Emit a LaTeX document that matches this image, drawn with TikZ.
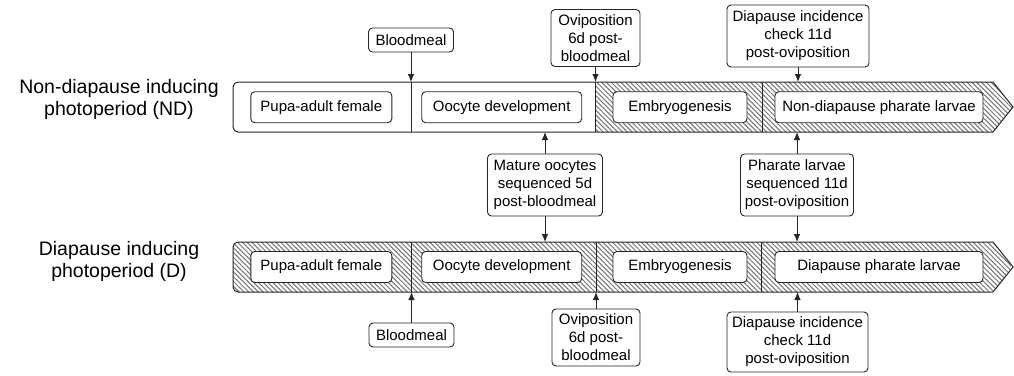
\documentclass[tikz,border=0pt]{standalone}
\usepackage{fontspec}
\setmainfont{Liberation Sans}
\usetikzlibrary{patterns.meta,arrows.meta}
\begin{document}
\begin{tikzpicture}[x=1pt,y=-1pt,
  box/.style={draw=black!85, rounded corners=4pt, fill=white, line width=0.9pt,
    font=\fontsize{15}{18}\selectfont, align=center, inner sep=0pt, anchor=center},
  arr/.style={-{Latex[length=8pt,width=6.5pt]}, line width=0.9pt, black!85},
  hatch/.style={pattern={Lines[angle=-45,distance=3.4pt,line width=1pt]}, pattern color=black!55},
  barline/.style={line width=1pt, black!85},
  title/.style={font=\fontsize{19.5}{22.5}\selectfont, align=center}]
\useasboundingbox (0,0) rectangle (1014,375);

% ---------- top bar (ND) ----------
\fill[white, rounded corners=5pt] (233,82) rectangle (600,132);
\path[hatch] (595,82) -- (993,82) -- (1013,107) -- (993,132) -- (595,132) -- cycle;
\draw[barline] (700,82) -- (993,82) -- (1013,107) -- (993,132) -- (700,132)
  [rounded corners=5pt] -- (233,132) -- (233,82) -- (700,82);
\draw[barline] (411,82) -- (411,132);
\draw[barline] (595,82) -- (595,132);
\draw[barline] (762,82) -- (762,132);
\coordinate (ndtop) at (0,82);
\coordinate (ndbot) at (0,132);

% ---------- bottom bar (D) ----------
\path[hatch, rounded corners=5pt] (700,242) -- (993,242) -- (1013,267) -- (993,292) -- (700,292)
  -- (233,292) -- (233,242) -- cycle;
\draw[barline] (700,242) -- (993,242) -- (1013,267) -- (993,292) -- (700,292)
  [rounded corners=5pt] -- (233,292) -- (233,242) -- (700,242);
\draw[barline] (411.5,242) -- (411.5,292);
\draw[barline] (596,242) -- (596,292);
\draw[barline] (761,242) -- (761,292);
\coordinate (dtop) at (0,242);
\coordinate (dbot) at (0,292);

% ---------- titles ----------
\node[title] (tnd) at (119,99.5) {Non-diapause inducing\\photoperiod (ND)};
\node[title] (td) at (119,261.5) {Diapause inducing\\photoperiod (D)};

% ---------- stage boxes ----------
\node[box, minimum width=141pt, minimum height=31pt] (p1) at (321.3,107.2) {Pupa-adult female};
\node[box, minimum width=160pt, minimum height=31pt] (o1) at (501.7,107.2) {Oocyte development};
\node[box, minimum width=134pt, minimum height=31pt] (e1) at (680,107.2) {Embryogenesis};
\node[box, minimum width=208pt, minimum height=31pt] (l1) at (879,107.2) {Non-diapause pharate larvae};

\node[box, minimum width=141pt, minimum height=31pt] (p2) at (321.3,267) {Pupa-adult female};
\node[box, minimum width=160pt, minimum height=31pt] (o2) at (501.7,267) {Oocyte development};
\node[box, minimum width=134pt, minimum height=31pt] (e2) at (680,267) {Embryogenesis};
\node[box, minimum width=208pt, minimum height=31pt] (l2) at (879,267) {Diapause pharate larvae};

% ---------- event boxes ----------
\node[box, minimum width=85pt, minimum height=24pt] (bm1) at (411,40) {Bloodmeal};
\node[box, minimum width=89pt, minimum height=57pt] (ov1) at (595.5,38) {Oviposition\\6d post-\\bloodmeal};
\node[box, minimum width=142pt, minimum height=62pt] (di1) at (798,36) {Diapause incidence\\check 11d\\post-oviposition};

\node[box, minimum width=115pt, minimum height=62pt] (mo) at (545,185) {Mature oocytes\\sequenced 5d\\post-bloodmeal};
\node[box, minimum width=113pt, minimum height=62pt] (pl) at (797,185) {Pharate larvae\\sequenced 11d\\post-oviposition};

\node[box, minimum width=85pt, minimum height=24pt] (bm2) at (411.5,335) {Bloodmeal};
\node[box, minimum width=88pt, minimum height=57pt] (ov2) at (596,337.5) {Oviposition\\6d post-\\bloodmeal};
\node[box, minimum width=141pt, minimum height=60pt] (di2) at (797.5,342) {Diapause incidence\\check 11d\\post-oviposition};

% ---------- connectors ----------
\draw[arr] (bm1.south) -- (bm1.south |- ndtop);
\draw[arr] (ov1.south) -- (ov1.south |- ndtop);
\draw[arr] (di1.south) -- (di1.south |- ndtop);
\draw[arr] (mo.north) -- (mo.north |- ndbot);
\draw[arr] (mo.south) -- (mo.south |- dtop);
\draw[arr] (pl.north) -- (pl.north |- ndbot);
\draw[arr] (pl.south) -- (pl.south |- dtop);
\draw[arr] (bm2.north) -- (bm2.north |- dbot);
\draw[arr] (ov2.north) -- (ov2.north |- dbot);
\draw[arr] (di2.north) -- (di2.north |- dbot);
\end{tikzpicture}
\end{document}
